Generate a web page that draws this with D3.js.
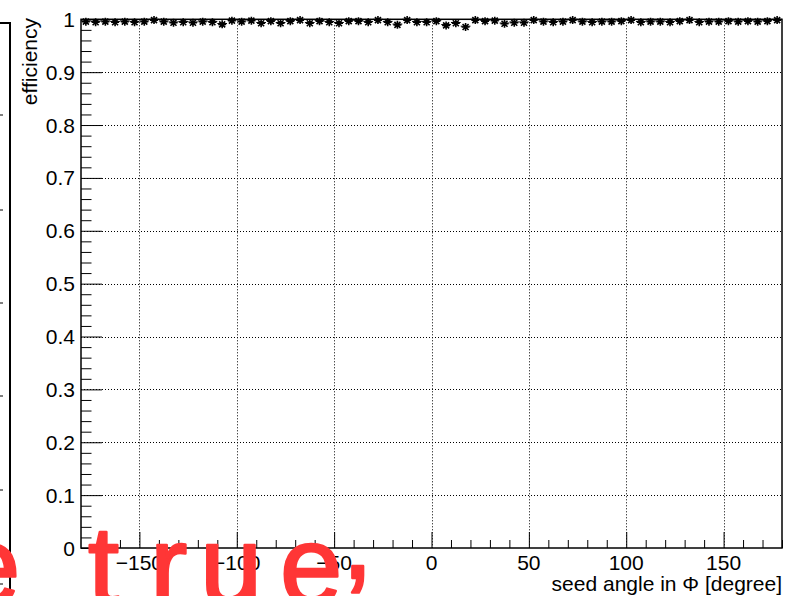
<!DOCTYPE html>
<html>
<head>
<meta charset="utf-8">
<script src="https://cdn.jsdelivr.net/npm/d3@7"></script>
<style>
    body { margin: 0; background: #fff; }
    svg text { font-family: "Liberation Sans", Arial, Helvetica, sans-serif; }
</style>
</head>
<body>
<div id="eff-vis"></div>
<script>

// bin centres in phi (5 degree bins)
const phiCenters = [
    -177.5, -172.5, -167.5, -162.5, -157.5, -152.5, -147.5, -142.5, -137.5, -132.5, -127.5, -122.5,
    -117.5, -112.5, -107.5, -102.5, -97.5, -92.5, -87.5, -82.5, -77.5, -72.5, -67.5, -62.5,
    -57.5, -52.5, -47.5, -42.5, -37.5, -32.5, -27.5, -22.5, -17.5, -12.5, -7.5, -2.5,
    2.5, 7.5, 12.5, 17.5, 22.5, 27.5, 32.5, 37.5, 42.5, 47.5, 52.5, 57.5,
    62.5, 67.5, 72.5, 77.5, 82.5, 87.5, 92.5, 97.5, 102.5, 107.5, 112.5, 117.5,
    122.5, 127.5, 132.5, 137.5, 142.5, 147.5, 152.5, 157.5, 162.5, 167.5, 172.5, 177.5
];
const binHalfWidth = 2.5;

// efficiency per bin
const efficiency = [
    0.997, 0.996, 0.997, 0.996, 0.997, 0.996, 0.997, 1.000, 0.997, 0.995, 0.996, 0.995,
    0.997, 0.996, 0.992, 0.999, 0.997, 0.999, 0.994, 0.998, 0.994, 0.998, 1.000, 0.994,
    0.998, 0.996, 0.994, 0.998, 0.998, 0.996, 1.000, 0.996, 0.991, 1.000, 0.996, 0.996,
    0.998, 0.990, 0.994, 0.987, 1.000, 0.998, 0.999, 0.993, 0.995, 0.995, 1.000, 0.997,
    0.996, 0.997, 1.000, 0.997, 0.996, 0.997, 0.997, 0.998, 1.000, 0.996, 0.997, 0.997,
    0.996, 0.998, 1.000, 0.996, 0.997, 0.997, 0.998, 0.997, 0.998, 0.997, 0.998, 1.000
];

// axis ticks
const xMajorTicks = [-150, -100, -50, 0, 50, 100, 150];
const xTickLabels = ["\u2212150", "\u2212100", "\u221250", "0", "50", "100", "150"];
const yMajorTicks = [0, 0.1, 0.2, 0.3, 0.4, 0.5, 0.6, 0.7, 0.8, 0.9, 1];
const yTickLabels = ["0", "0.1", "0.2", "0.3", "0.4", "0.5", "0.6", "0.7", "0.8", "0.9", "1"];

const xTitle = "seed angle in \u03A6 [degree]";
const yTitle = "efficiency";
const scribble = "e true,";


class EffVis {
    constructor(parentElement) {
        this.parentElement = parentElement;
        this.initVis();
    }

    initVis() {
        let vis = this;

        vis.width = 785;
        vis.height = 596;
        vis.frame = {left: 81, right: 782, top: 19.3, bottom: 548};

        vis.svg = d3.select("#" + vis.parentElement).append("svg")
            .attr("width", vis.width)
            .attr("height", vis.height);

        vis.x = d3.scaleLinear().domain([-180, 180]).range([vis.frame.left, vis.frame.right]);
        vis.y = d3.scaleLinear().domain([0, 1]).range([vis.frame.bottom, vis.frame.top]);

        // edge of the neighbouring pad on the left
        let pad = vis.svg.append("g");
        pad.append("path")
            .attr("d", "M0,23 H10 V596")
            .attr("fill", "none")
            .attr("stroke", "#000")
            .attr("stroke-width", 2);
        [115, 210, 303, 396, 490, 584].forEach(yy => {
            pad.append("line")
                .attr("x1", 0).attr("x2", 3)
                .attr("y1", yy).attr("y2", yy)
                .attr("stroke", "#000");
        });

        vis.drawGrid();
        vis.drawAxes();
        vis.drawPoints();
        vis.drawScribble();
    }

    drawGrid() {
        let vis = this;
        let grid = vis.svg.append("g").attr("class", "grid")
            .attr("stroke", "#000")
            .attr("stroke-width", 1)
            .attr("stroke-dasharray", "1,2");

        grid.selectAll(".vgrid")
            .data(xMajorTicks)
            .enter().append("line")
            .attr("x1", d => Math.round(vis.x(d)) + 0.5)
            .attr("x2", d => Math.round(vis.x(d)) + 0.5)
            .attr("y1", vis.frame.top)
            .attr("y2", vis.frame.bottom);

        grid.selectAll(".hgrid")
            .data(yMajorTicks.filter(d => d > 0 && d < 1))
            .enter().append("line")
            .attr("x1", vis.frame.left)
            .attr("x2", vis.frame.right)
            .attr("y1", d => Math.round(vis.y(d)) + 0.5)
            .attr("y2", d => Math.round(vis.y(d)) + 0.5);
    }

    drawAxes() {
        let vis = this;
        let f = vis.frame;

        // frame box
        vis.svg.append("rect")
            .attr("x", f.left).attr("y", f.top)
            .attr("width", f.right - f.left)
            .attr("height", f.bottom - f.top)
            .attr("fill", "none")
            .attr("stroke", "#000")
            .attr("stroke-width", 1.5);

        // x axis, ticks point up into the frame
        let xAxis = d3.axisTop(vis.x)
            .tickValues(d3.range(-170, 181, 10))
            .tickSize(8)
            .tickFormat("");
        let gx = vis.svg.append("g")
            .attr("transform", `translate(0,${f.bottom})`)
            .call(xAxis);
        gx.select(".domain").remove();
        gx.selectAll(".tick line")
            .attr("y2", d => xMajorTicks.includes(d) ? -16 : -8);

        vis.svg.append("g").selectAll("text")
            .data(xMajorTicks)
            .enter().append("text")
            .attr("x", d => vis.x(d))
            .attr("y", 570)
            .attr("text-anchor", "middle")
            .attr("font-size", 21)
            .text((d, i) => xTickLabels[i]);

        // y axis, ticks point right into the frame
        let yAxis = d3.axisRight(vis.y)
            .tickValues(d3.range(0, 51).map(i => i / 50))
            .tickSize(10.5)
            .tickFormat("");
        let gy = vis.svg.append("g")
            .attr("transform", `translate(${f.left},0)`)
            .call(yAxis);
        gy.select(".domain").remove();
        gy.selectAll(".tick line")
            .attr("x2", (d, i) => i % 5 === 0 ? 21 : 10.5);

        vis.svg.append("g").selectAll("text")
            .data(yMajorTicks)
            .enter().append("text")
            .attr("x", f.left - 6)
            .attr("y", d => vis.y(d))
            .attr("dy", "0.36em")
            .attr("text-anchor", "end")
            .attr("font-size", 21)
            .text((d, i) => yTickLabels[i]);

        // axis titles
        vis.svg.append("text")
            .attr("x", f.right)
            .attr("y", 591)
            .attr("text-anchor", "end")
            .attr("font-size", 21)
            .text(xTitle);

        vis.svg.append("text")
            .attr("transform", `translate(37,18) rotate(-90)`)
            .attr("text-anchor", "end")
            .attr("font-size", 21)
            .text(yTitle);
    }

    drawPoints() {
        let vis = this;
        let data = phiCenters.map((phi, i) => ({phi: phi, eff: efficiency[i]}));

        let pts = vis.svg.append("g").attr("class", "points")
            .attr("stroke", "#000")
            .attr("fill", "none");

        // horizontal error bars (bin width)
        pts.selectAll(".xerr")
            .data(data)
            .enter().append("line")
            .attr("x1", d => vis.x(d.phi - binHalfWidth))
            .attr("x2", d => vis.x(d.phi + binHalfWidth))
            .attr("y1", d => vis.y(d.eff))
            .attr("y2", d => vis.y(d.eff))
            .attr("stroke-width", 1);

        // star markers
        let r = 4, s = 3;
        let star = `M${-r},0H${r}M0,${-r}V${r}M${-s},${-s}L${s},${s}M${-s},${s}L${s},${-s}`;
        pts.selectAll(".marker")
            .data(data)
            .enter().append("path")
            .attr("d", star)
            .attr("transform", d => `translate(${vis.x(d.phi)},${vis.y(d.eff) + 0.8})`)
            .attr("stroke-width", 1.6);
    }

    drawScribble() {
        let vis = this;
        // handwritten red note across the bottom left, comma sits high like a tick mark
        vis.svg.append("text")
            .attr("x", [-42, 0, 88, 150, 200, 280, 342].join(" "))
            .attr("y", [604, 604, 604, 604, 604, 604, 578].join(" "))
            .attr("font-family", "DejaVu Sans")
            .attr("font-size", 112)
            .attr("fill", "#ff3636")
            .attr("stroke", "#ff3636")
            .attr("stroke-width", 2.5)
            .attr("stroke-linejoin", "round")
            .text(scribble);
    }
}

new EffVis("eff-vis");
</script>
</body>
</html>
